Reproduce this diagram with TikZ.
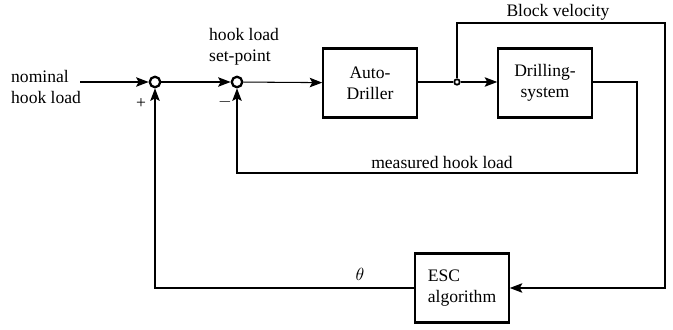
\documentclass[tikz,border=0pt]{standalone}
\usepackage{fontspec}
\setmainfont{Liberation Serif}
\usetikzlibrary{arrows.meta, positioning}

\begin{document}
\begin{tikzpicture}[
    x=0.02cm, y=-0.02cm,
    block/.style = {draw, line width=1.2pt, minimum width=1.87cm, minimum height=1.38cm, align=center, inner sep=2pt},
    sumnode/.style = {draw, circle, line width=1.3pt, minimum size=0.21cm, inner sep=0pt},
    junction/.style = {draw, circle, fill=white, line width=1pt, minimum size=0.11cm, inner sep=0pt},
    arrow/.style = {line width=0.6pt, -{Stealth[length=2.5mm, width=1.9mm, inset=0.5mm]}},
    line/.style = {line width=0.6pt},
    textnode/.style = {font=\normalsize}
]
\useasboundingbox (0,0) rectangle (673,330);

% summing junctions and blocks
\node[sumnode] (sum1) at (155,82) {};
\node[sumnode] (sum2) at (237,82) {};
\node[block] (adriller) at (370,83) {Auto-\\Driller};
\node[block] (dsys) at (545,83) {Drilling-\\system};
\node[block, align=left] (esc) at (462,288) {ESC\\algorithm};

% branch point for the block velocity
\node[junction] (junc) at (457,82) {};

% free ends and corners of the loops
\coordinate (in) at (80,82);
\coordinate (mfb) at (637,173);
\coordinate (bv) at (665,23);

% input and forward path
\node[textnode, anchor=west, align=left] (nominal) at (5,87) {nominal\\hook load};
\draw[arrow] (in) -- (sum1);
\draw[arrow] (sum1) -- (sum2);
\draw[arrow] (sum2) -- (adriller);
\draw[line] (adriller.east |- junc) -- (junc);
\draw[arrow] (junc) -- (dsys.west |- junc);
\node[textnode, anchor=west, align=left] (setpoint) at (203,47) {hook load\\set-point};

% measured hook load feedback
\draw[arrow] (dsys.east |- junc) -| (mfb) -| (sum2);
\node[textnode] (measured) at (442,162) {measured hook load};

% block velocity to the ESC
\draw[arrow] (junc) |- (bv) |- (esc);
\node[textnode] (velocity) at (558,12) {Block velocity};

% ESC output back to the first sum
\draw[arrow] (esc) -| (sum1);
\node[textnode] (theta) at (360,274) {$\theta$};

% signs
\node[textnode] (plus) at (141,104) {+};
\node[textnode] (minus) at (225,102) {$-$};

\end{tikzpicture}
\end{document}
